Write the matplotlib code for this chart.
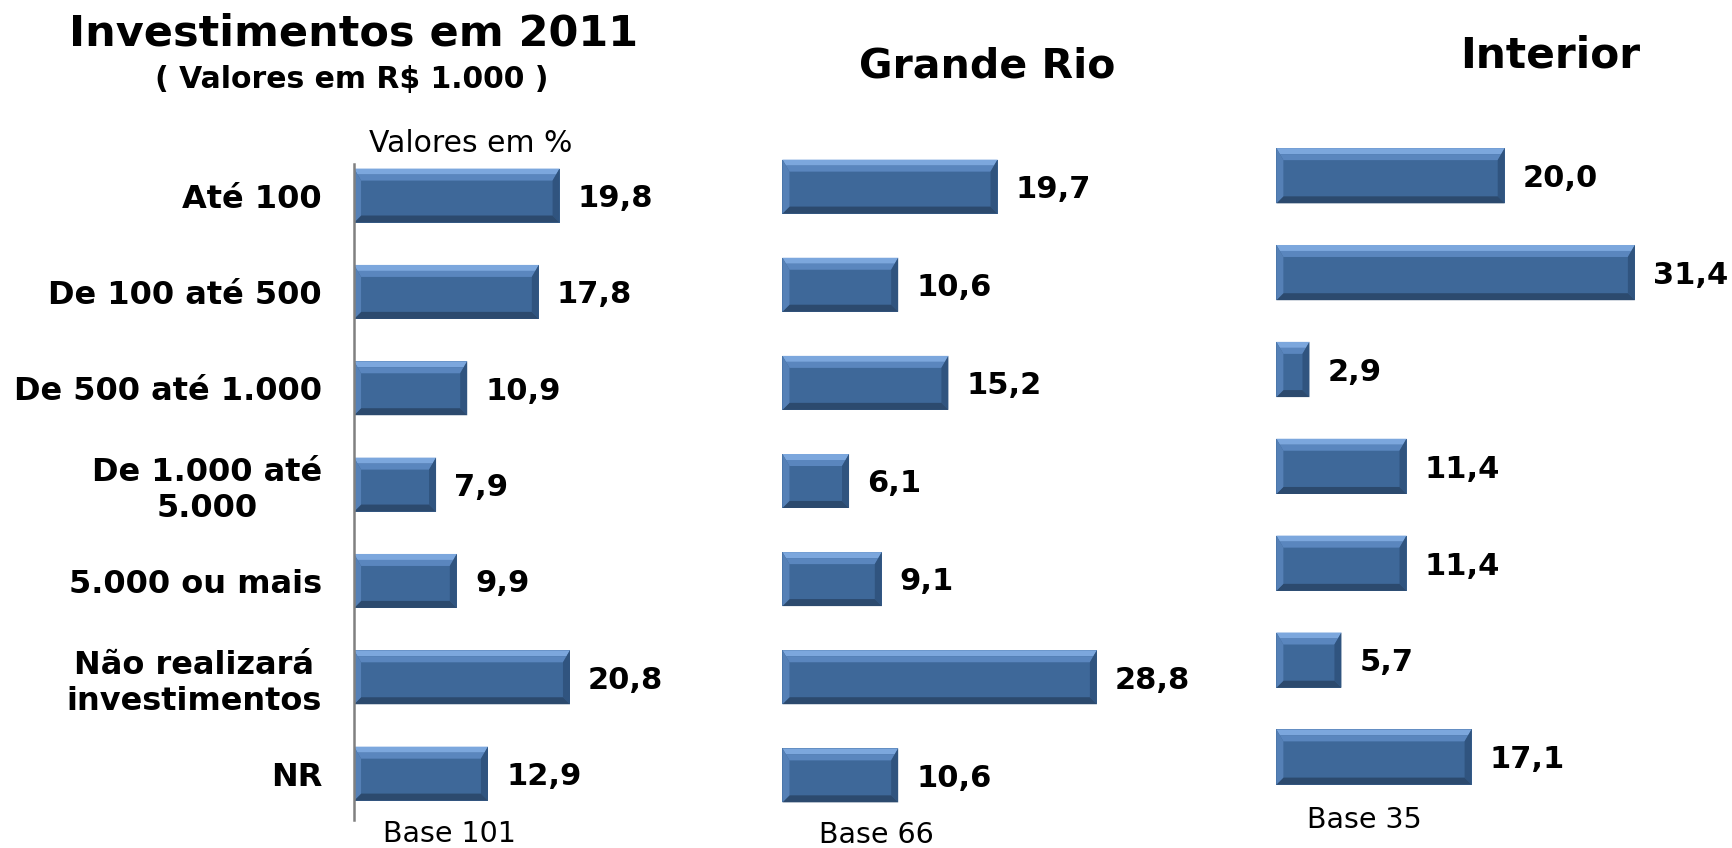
import numpy as np
import matplotlib.pyplot as plt
from matplotlib.patches import Polygon

categorias = ['Até 100', 'De 100 até 500', 'De 500 até 1.000', 'De 1.000 até\n5.000',
              '5.000 ou mais', 'Não realizará\ninvestimentos', 'NR']
total = [19.8, 17.8, 10.9, 7.9, 9.9, 20.8, 12.9]
grande_rio = [19.7, 10.6, 15.2, 6.1, 9.1, 28.8, 10.6]
interior = [20.0, 31.4, 2.9, 11.4, 11.4, 5.7, 17.1]
bases = ['Base 101', 'Base 66', 'Base 35']

COR = '#3E6899'
plt.rcParams['font.family'] = ['DejaVu Sans']

fig = plt.figure(figsize=(17.33, 8.48), dpi=100)


def bisel(ax, rect, topo=12, lado=7):
    # bordas em relevo desenhadas a partir da geometria da barra
    tr = ax.transData
    (x0, y0), (x1, y1) = tr.transform([(rect.get_x(), rect.get_y()),
                                       (rect.get_x() + rect.get_width(), rect.get_y() + rect.get_height())])
    esq, dir_ = min(x0, x1), max(x0, x1)
    baixo, cima = min(y0, y1), max(y0, y1)
    s = min(lado, (dir_ - esq) / 3)
    fora = np.array([(esq, cima), (dir_, cima), (dir_, baixo), (esq, baixo)])
    dentro = np.array([(esq + s, cima - topo), (dir_ - s, cima - topo),
                       (dir_ - s, baixo + s), (esq + s, baixo + s)])
    meio = (fora + dentro) / 2
    inv = tr.inverted()
    faces = [(fora, meio, 0, 1, '#7CA7DD'), (meio, dentro, 0, 1, '#5A86BE'),
             (fora, dentro, 1, 2, '#30547F'), (fora, dentro, 2, 3, '#2C4A6E'),
             (fora, dentro, 3, 0, '#5580B6')]
    for a, b, i, j, c in faces:
        pts = inv.transform([a[i], a[j], b[j], b[i]])
        ax.add_patch(Polygon(pts, closed=True, facecolor=c, edgecolor='none'))


def painel(pos, valores, xmax, altura, rotulos=None):
    ax = fig.add_axes(pos)
    y = np.arange(len(valores))
    barras = ax.barh(y, valores, height=altura, color=COR)
    ax.set_xlim(0, xmax)
    ax.set_ylim(len(valores) - 0.5, -0.5)
    ax.set_xticks([])
    for sp in ax.spines.values():
        sp.set_visible(False)
    if rotulos is None:
        ax.set_yticks([])
    else:
        ax.set_yticks(y)
        ax.set_yticklabels(rotulos, fontsize=23, fontweight='bold')
        for lb in ax.get_yticklabels():
            lb.set_multialignment('center')
        ax.tick_params(axis='y', length=0, pad=23)
        ax.spines['left'].set_visible(True)
        ax.spines['left'].set_color('#808080')
        ax.spines['left'].set_linewidth(1.8)
        ax.spines['left'].set_bounds(-0.33, 6.48)
    for b in barras:
        bisel(ax, b)
    for yi, v in zip(y, valores):
        ax.annotate(f'{v:.1f}'.replace('.', ','), xy=(v, yi), xytext=(13, -2),
                    textcoords='offset points', va='center', ha='left',
                    fontsize=22, fontweight='bold')
    return ax


painel([0.2043, 0.0309, 0.1797, 0.7953], total, 30, 0.56, categorias)
painel([0.4515, 0.0278, 0.189, 0.81], grande_rio, 30, 0.55)
painel([0.7365, 0.0502, 0.2306, 0.7997], interior, 35, 0.57)

fig.text(0.204, 0.961, 'Investimentos em 2011', fontsize=31, fontweight='bold', ha='center', va='center')
fig.text(0.2027, 0.906, '( Valores em R$ 1.000 )', fontsize=21.5, fontweight='bold', ha='center', va='center')
fig.text(0.5694, 0.9218, 'Grande Rio', fontsize=29.5, fontweight='bold', ha='center', va='center')
fig.text(0.8945, 0.9348, 'Interior', fontsize=30.5, fontweight='bold', ha='center', va='center')
fig.text(0.213, 0.8306, 'Valores em %', fontsize=21.5, ha='left', va='center')

for x, y, txt in zip([0.2595, 0.5056, 0.7875], [0.0162, 0.0149, 0.033], bases):
    fig.text(x, y, txt, fontsize=20.5, ha='center', va='center')

fig.savefig('out.png', dpi=100)
